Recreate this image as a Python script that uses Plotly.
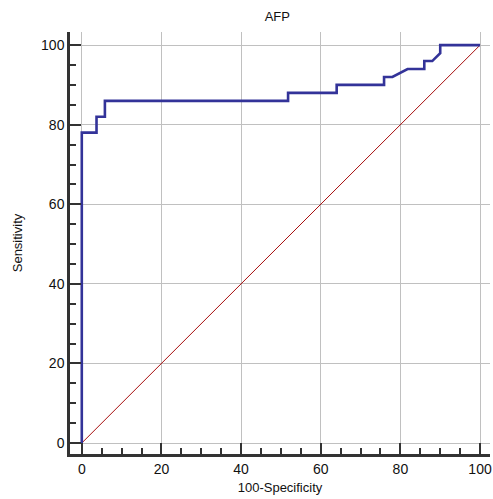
import plotly.graph_objects as go

# ROC curve points (100-Specificity, Sensitivity)
fpr = [0, 0, 3.7, 3.7, 5.8, 5.8, 51.8, 51.8, 64, 64, 75.9, 75.9, 78, 81.8, 86, 86, 88, 90, 90, 100]
tpr = [0, 78, 78, 82, 82, 86, 86, 88, 88, 90, 90, 92, 92, 94, 94, 96, 96, 98, 100, 100]
diag_x = [0, 100]
diag_y = [0, 100]
title_text = "AFP"
x_title = "100-Specificity"
y_title = "Sensitivity"
tick_vals = [0, 20, 40, 60, 80, 100]

font_fam = "Arial, Liberation Sans, sans-serif"

fig = go.Figure()
fig.add_trace(go.Scatter(x=diag_x, y=diag_y, mode="lines",
                         line=dict(color="#a80f0f", width=1), hoverinfo="skip"))
fig.add_trace(go.Scatter(x=fpr, y=tpr, mode="lines",
                         line=dict(color="#333399", width=2.6)))

axis_common = dict(
    tickvals=tick_vals,
    ticks="inside", ticklen=11, tickwidth=2, tickcolor="#333333",
    showline=True, linecolor="#333333", linewidth=2.5,
    showgrid=True, gridcolor="#c0c0c0", gridwidth=1,
    zeroline=False, mirror=False, automargin=False,
    tickfont=dict(family=font_fam, size=14, color="#111111"),
    minor=dict(dtick=5, tick0=0, ticks="inside", ticklen=6, tickwidth=2,
               tickcolor="#333333", showgrid=False),
)

fig.update_layout(
    width=493, height=499,
    margin=dict(l=70, r=3, t=32, b=45, autoexpand=False),
    paper_bgcolor="white", plot_bgcolor="white",
    showlegend=False,
    title=dict(text=title_text, x=0.5626, xanchor="center", y=0.968, yanchor="middle",
               font=dict(family=font_fam, size=13, color="#111111")),
    xaxis=dict(range=[-2.96, 102.5], title=dict(text=x_title, standoff=8,
               font=dict(family=font_fam, size=13, color="#111111")), **axis_common),
    yaxis=dict(range=[-2.76, 103.3], title=dict(text=y_title, standoff=16,
               font=dict(family=font_fam, size=13, color="#111111")), **axis_common),
)

fig.write_html("out.html", config={"displayModeBar": False},
               post_script="document.body.style.margin='0';document.body.style.padding='0';document.body.style.overflow='hidden';")
